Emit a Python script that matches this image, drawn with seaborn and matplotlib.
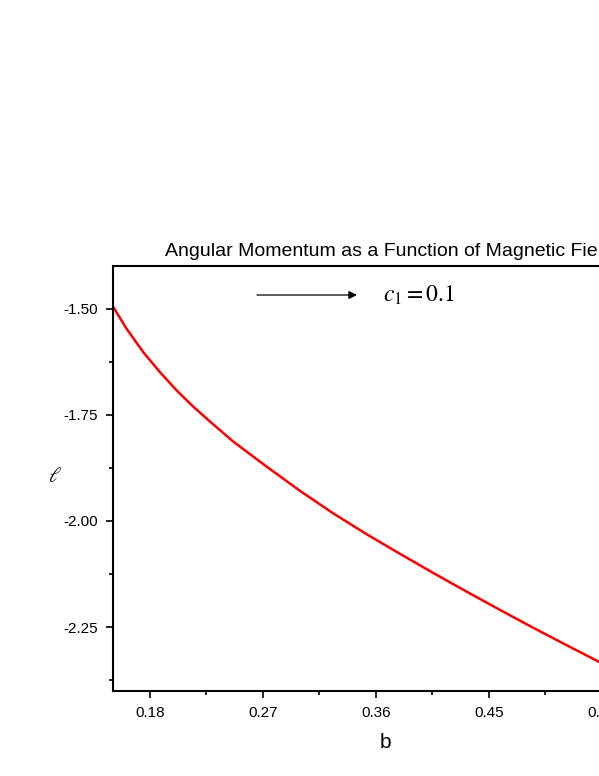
import matplotlib
matplotlib.use("Agg")
import matplotlib.pyplot as plt
import seaborn as sns
import pandas as pd
from matplotlib.ticker import MultipleLocator

b_values = [0.1508, 0.1614, 0.1747, 0.1880, 0.2013, 0.2145, 0.2278, 0.2463, 0.2729, 0.2995,
            0.3260, 0.3526, 0.3791, 0.4056, 0.4322, 0.4588, 0.4853, 0.5119, 0.5376, 0.5500]
ell_values = [-1.497, -1.548, -1.603, -1.650, -1.693, -1.731, -1.766, -1.813, -1.872, -1.929,
              -1.982, -2.031, -2.077, -2.122, -2.166, -2.209, -2.251, -2.292, -2.331, -2.350]
x_ticks = [0.18, 0.27, 0.36, 0.45, 0.54]
y_ticks = [-1.50, -1.75, -2.00, -2.25]
title_text = "Angular Momentum as a Function of Magnetic Field"
annot_text = r"$c_1 = 0.1$"

sns.set_style("ticks")
plt.rcParams['font.family'] = ['Liberation Sans', 'DejaVu Sans']
plt.rcParams['mathtext.fontset'] = 'stix'

W, H = 599, 776
fig = plt.figure(figsize=(W / 100, H / 100), dpi=100)
left, right, top, bottom = 113, 677, 266, 691
ax = fig.add_axes([left / W, 1 - bottom / H, (right - left) / W, (bottom - top) / H])

df = pd.DataFrame({"b": b_values, "ell": ell_values})
sns.lineplot(data=df, x="b", y="ell", ax=ax, color="#ff0000", linewidth=1.8)

ax.set_xlim(0.1505, 0.60)
ax.set_ylim(-2.40, -1.40)
ax.set_xticks(x_ticks)
ax.set_xticklabels([f"{v:.2f}" for v in x_ticks])
ax.set_yticks(y_ticks)
ax.set_yticklabels([f"{v:.2f}" for v in y_ticks])
ax.xaxis.set_minor_locator(MultipleLocator(0.045))
ax.yaxis.set_minor_locator(MultipleLocator(0.125))
ax.tick_params(which='major', direction='out', length=5, width=1.2, labelsize=11,
               colors='black', labelcolor='black', pad=6)
ax.tick_params(which='minor', direction='out', length=3, width=1.2, colors='black')
for s in ax.spines.values():
    s.set_linewidth(1.5)
    s.set_color('black')

ax.set_xlabel("b", fontsize=15, color='black')
ax.xaxis.set_label_coords((385 - left) / (right - left), -(742 - bottom) / (bottom - top))
ax.xaxis.label.set_va('center')
ax.set_ylabel(r"$\ell$", fontsize=15, rotation=0, color='black')
ax.yaxis.set_label_coords(-(left - 55) / (right - left), (bottom - 477) / (bottom - top))
ax.yaxis.label.set_va('center')
ax.yaxis.label.set_ha('center')

fig.text(165 / W, 1 - 251 / H, title_text, ha='left', va='center', fontsize=14, color='black')

ax.annotate("", xy=(357 / W, 1 - 295 / H), xytext=(257 / W, 1 - 295 / H),
            xycoords='figure fraction', textcoords='figure fraction',
            arrowprops=dict(arrowstyle='-|>', color='black', lw=0.9, mutation_scale=12,
                            shrinkA=0, shrinkB=0))
fig.text(383 / W, 1 - 295 / H, annot_text, ha='left', va='center', fontsize=17, color='black')

fig.savefig("out.png", dpi=100)
